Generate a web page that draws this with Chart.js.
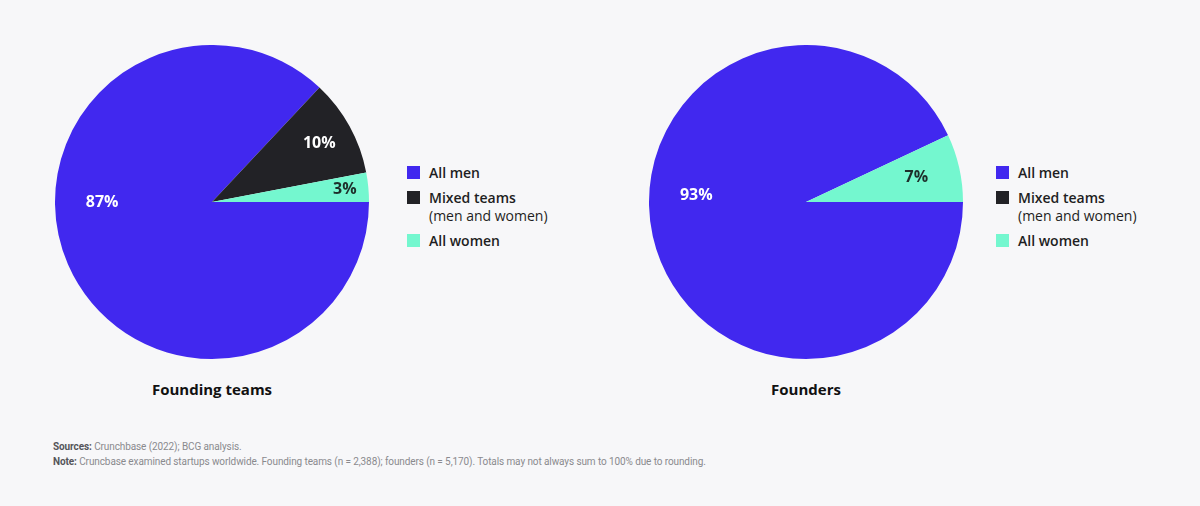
<!DOCTYPE html>
<html><head><meta charset="utf-8">
<script src="https://cdn.jsdelivr.net/npm/chart.js@4"></script>
<style>
html,body{margin:0;padding:0;background:#f7f7f9;}
body{width:1200px;height:506px;position:relative;overflow:hidden;font-family:"Open Sans","Noto Sans",sans-serif;}
.pie{position:absolute;top:45px;width:314px;height:314px;}
.legend{position:absolute;top:164px;font-size:14px;font-weight:600;color:#1e1e22;line-height:18px;}
.legend .item{position:relative;padding-left:22px;margin-bottom:7px;}
.legend .sw{position:absolute;left:0;top:2px;width:13px;height:13px;}
.legend .sub{font-weight:500;}
.title{position:absolute;top:379px;width:314px;text-align:center;font-size:15px;font-weight:700;color:#111;}
.notes{position:absolute;left:53px;top:439px;font-size:10px;color:#8a8a8e;line-height:15px;font-family:"Roboto",sans-serif;letter-spacing:-0.1px;}
.notes b{color:#55555a;font-weight:700;}
</style></head><body>
<div class="pie" style="left:55px"><canvas id="c1"></canvas></div>
<div class="pie" style="left:649px"><canvas id="c2"></canvas></div>
<div class="legend" id="lg1" style="left:407px"></div>
<div class="legend" id="lg2" style="left:996px"></div>
<div class="title" style="left:55px" id="t1"></div>
<div class="title" style="left:649px" id="t2"></div>
<div class="notes">
<div><b>Sources:</b> Crunchbase (2022); BCG analysis.</div>
<div><b>Note:</b> Cruncbase examined startups worldwide. Founding teams (n = 2,388); founders (n = 5,170). Totals may not always sum to 100% due to rounding.</div>
</div>
<script>
const categories = ["All men", "Mixed teams", "All women"];
const categorySubs = ["", "(men and women)", ""];
const colors = ["#4128ef", "#222226", "#74f7cf"];
const foundingTeams = [87, 10, 3];
const founders = [93, 0, 7];
const chartTitles = ["Founding teams", "Founders"];

function buildLegend(id){
  const el=document.getElementById(id);
  categories.forEach((c,i)=>{
    const d=document.createElement('div');d.className='item';
    d.innerHTML='<span class="sw" style="background:'+colors[i]+'"></span>'+c+(categorySubs[i]?'<br><span class="sub">'+categorySubs[i]+'</span>':'');
    el.appendChild(d);
  });
}
buildLegend('lg1');buildLegend('lg2');
document.getElementById('t1').textContent=chartTitles[0];
document.getElementById('t2').textContent=chartTitles[1];

const labelPlugin={
  id:'pctLabels',
  afterDatasetsDraw(chart,args,opts){
    const ctx=chart.ctx;const meta=chart.getDatasetMeta(0);
    const data=chart.data.datasets[0].data;
    ctx.save();
    ctx.font='bold 16px "Open Sans", sans-serif';
    ctx.textAlign='center';ctx.textBaseline='middle';
    meta.data.forEach((arc,i)=>{
      if(!data[i])return;
      const p=arc.getProps(['x','y','startAngle','endAngle','outerRadius']);
      let ang=(p.startAngle+p.endAngle)/2;
      const big=(p.endAngle-p.startAngle)>Math.PI;
      if(big) ang=Math.PI+(opts.bigOffset||0);
      const f=big?0.7:(data[i]<5?0.85:(data[i]<9?0.72:0.78));
      const x=p.x+Math.cos(ang)*p.outerRadius*f;
      const y=p.y+Math.sin(ang)*p.outerRadius*f;
      ctx.fillStyle=i===2?'#1e2f2b':'#ffffff';
      ctx.fillText(data[i]+'%',x,y);
    });
    ctx.restore();
  }
};

function makePie(id,vals,bigOffset){
  new Chart(document.getElementById(id),{
    type:'pie',
    data:{labels:categories,datasets:[{data:vals,backgroundColor:colors,borderWidth:0,hoverOffset:0}]},
    options:{
      responsive:true,maintainAspectRatio:false,animation:false,
      rotation:90,layout:{padding:0},
      plugins:{legend:{display:false},tooltip:{enabled:false},pctLabels:{bigOffset:bigOffset}},
      events:[]
    },
    plugins:[labelPlugin]
  });
}
makePie('c1',foundingTeams,0);
makePie('c2',founders,0.06);
</script>
</body></html>
